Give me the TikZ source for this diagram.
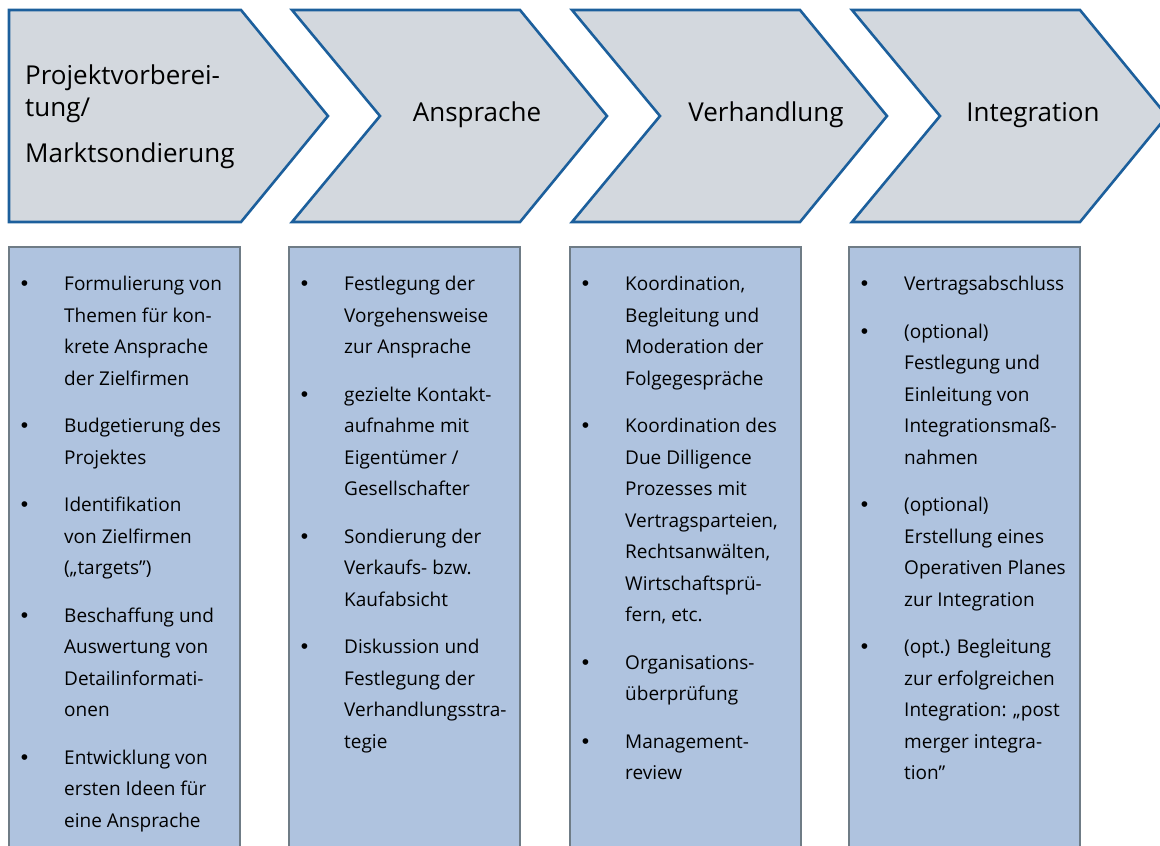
\documentclass[tikz,border=0pt]{standalone}
\usepackage{fontspec}
\setmainfont{Open Sans}
\newfontfamily\bulletfont{Liberation Sans}
\usepackage{tikz}
\usetikzlibrary{positioning}

\definecolor{phasefill}{HTML}{D3D8DE}
\definecolor{phaseline}{HTML}{1C5F9C}
\definecolor{boxfill}{HTML}{AFC3DF}
\definecolor{boxline}{HTML}{6F7C86}

\newcommand{\itm}{\leavevmode\llap{{\bulletfont\fontsize{21}{0}\selectfont\textbullet}\hspace{36pt}}}

\tikzset{
  phase/.style={draw=phaseline,fill=phasefill,line width=2.6pt,line join=miter},
  infobox/.style={draw=boxline,fill=boxfill,line width=2.6pt},
  phasetext/.style={font=\fontsize{26}{32}\selectfont,inner sep=0pt},
  itemtext/.style={font=\fontsize{19}{31.5}\selectfont,align=left,anchor=north west,inner sep=0pt}
}

\begin{document}
\begin{tikzpicture}[x=1pt,y=-1pt]
		\useasboundingbox (0,0) rectangle (1160,846);
		% the phase arrows
		\draw[phase] (9,10) -- (241,10) -- (328,116) -- (241,222) -- (9,222) -- cycle;
		\foreach \x in {292,572,852}
			\draw[phase] (\x,10) -- (\x+228,10) -- (\x+315,116) -- (\x+228,222) -- (\x,222) -- (\x+88,116) -- cycle;
		%% the phase names
		\node[phasetext,align=left,anchor=west] (vorbereitung) at (25,117) {Projektvorberei-\\tung/\\[14pt]Marktsondierung};
		\node[phasetext] (ansprache) at (477,115) {Ansprache};
		\node[phasetext] (verhandlung) at (766,115) {Verhandlung};
		\node[phasetext] (integration) at (1033,115) {Integration};
		% the task boxes
		\foreach \x in {9,289,570,849}
			\draw[infobox] (\x,247) rectangle (\x+231,870);
		%% the tasks
		\node[itemtext] (aufgaben1) at (64,276) {%
			\itm Formulierung von\\Themen für kon-\\krete Ansprache\\der Zielfirmen\\[16pt]
			\itm Budgetierung des\\Projektes\\[16pt]
			\itm Identifikation\\von Zielfirmen\\(„targets”)\\[16pt]
			\itm Beschaffung und\\Auswertung von\\Detailinformati-\\onen\\[16pt]
			\itm Entwicklung von\\ersten Ideen für\\eine Ansprache};
		\node[itemtext] (aufgaben2) at (344,276) {%
			\itm Festlegung der\\Vorgehensweise\\zur Ansprache\\[16pt]
			\itm gezielte Kontakt-\\aufnahme mit\\Eigentümer /\\Gesellschafter\\[16pt]
			\itm Sondierung der\\Verkaufs- bzw.\\Kaufabsicht\\[16pt]
			\itm Diskussion und\\Festlegung der\\Verhandlungsstra-\\tegie};
		\node[itemtext] (aufgaben3) at (625,276) {%
			\itm Koordination,\\Begleitung und\\Moderation der\\Folgegespräche\\[16pt]
			\itm Koordination des\\Due Dilligence\\Prozesses mit\\Vertragsparteien,\\Rechtsanwälten,\\Wirtschaftsprü-\\fern, etc.\\[16pt]
			\itm Organisations-\\überprüfung\\[16pt]
			\itm Management-\\review};
		\node[itemtext] (aufgaben4) at (904,276) {%
			\itm Vertragsabschluss\\[16pt]
			\itm (optional)\\Festlegung und\\Einleitung von\\Integrationsmaß-\\nahmen\\[16pt]
			\itm (optional)\\Erstellung eines\\Operativen Planes\\zur Integration\\[16pt]
			\itm (opt.) Begleitung\\zur erfolgreichen\\Integration: „post\\merger integra-\\tion”};
		\end{tikzpicture}
\end{document}
